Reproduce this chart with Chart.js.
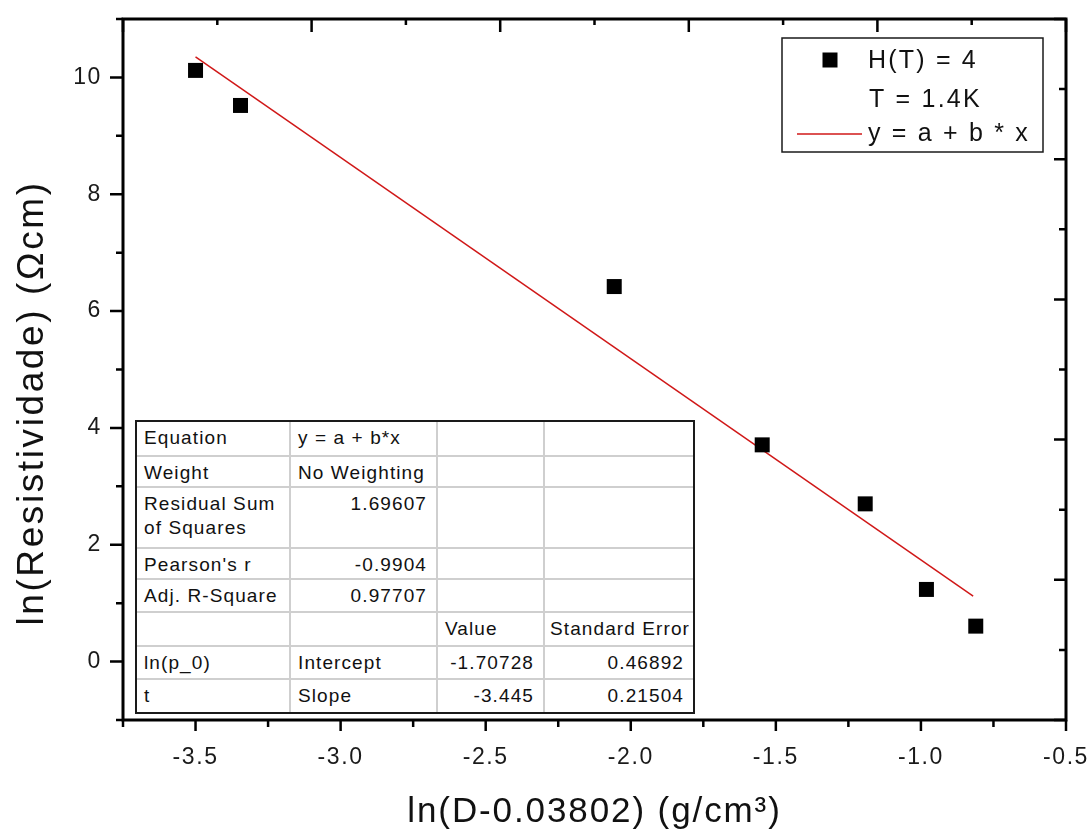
<!DOCTYPE html>
<html>
<head>
<meta charset="utf-8">
<script src="https://cdn.jsdelivr.net/npm/chart.js@4.4.1/dist/chart.umd.min.js"></script>
<style>
  body { margin: 0; background: #fff; overflow: hidden; }
  #wrap { position: relative; width: 1091px; height: 830px; }
  #grafico { position: absolute; left: 0; top: 0; }
  #tabela {
    position: absolute; left: 135px; top: 420px; width: 556px;
    border: 2px solid #1a1a1a; background: #fff;
    font-family: "Liberation Sans", Arial, sans-serif; font-size: 19px;
    letter-spacing: 1.1px; color: #111;
  }
  #tabela table { border-collapse: collapse; table-layout: fixed; width: 556px; }
  #tabela td {
    box-sizing: border-box;
    border: 2px solid #cfcfcf; padding: 4px 4px 0 7px;
    vertical-align: top; line-height: 24px; white-space: nowrap; overflow: hidden;
  }
  #tabela tr:first-child td { border-top: none; }
  #tabela tr:last-child td { border-bottom: none; }
  #tabela td:first-child { border-left: none; }
  #tabela td:last-child { border-right: none; padding-left: 5px; padding-right: 0; }
  #tabela td.num { text-align: right; padding-right: 9px; }
</style>
</head>
<body>
<div id="wrap">
  <canvas id="grafico" width="1091" height="830"></canvas>
  <div id="tabela"></div>
</div>
<script>
// dados
const xValores = [-3.5, -3.345, -2.057, -1.547, -1.192, -0.981, -0.811];
const yValores = [10.12, 9.52, 6.42, 3.71, 2.70, 1.235, 0.607];

// reta do ajuste (pontas)
const ajusteX = [-3.5, -0.82];
const ajusteY = [10.35, 1.12];

const xTicks = [-3.5, -3.0, -2.5, -2.0, -1.5, -1.0, -0.5];
const xTickLabels = ['-3.5', '-3.0', '-2.5', '-2.0', '-1.5', '-1.0', '-0.5'];
const yTicks = [0, 2, 4, 6, 8, 10];
const yTickLabels = ['0', '2', '4', '6', '8', '10'];

const legendaTextos = ['H(T) = 4', 'T = 1.4K', 'y = a + b * x'];
const tituloX = 'ln(D-0.03802) (g/cm³)';
const tituloY = 'ln(Resistividade) (Ωcm)';

// tabela do ajuste linear
const tabelaLinhas = [
  ['Equation', 'y = a + b*x', '', ''],
  ['Weight', 'No Weighting', '', ''],
  ['Residual Sum<br>of Squares', '1.69607', '', ''],
  ["Pearson's r", '-0.9904', '', ''],
  ['Adj. R-Square', '0.97707', '', ''],
  ['', '', 'Value', 'Standard Error'],
  ['ln(p_0)', 'Intercept', '-1.70728', '0.46892'],
  ['t', 'Slope', '-3.445', '0.21504']
];
const tabelaAlturas = [34, 31, 61, 31, 33, 34, 33, 33];
const tabelaLarguras = [153, 147, 107, 149];

const fonte = '"Liberation Sans", Arial, sans-serif';
const vermelho = '#d01818';

function montaTabela() {
  let html = '<table><colgroup>';
  tabelaLarguras.forEach(w => { html += '<col style="width:' + w + 'px">'; });
  html += '</colgroup>';
  tabelaLinhas.forEach((linha, i) => {
    html += '<tr style="height:' + tabelaAlturas[i] + 'px">';
    linha.forEach((cel) => {
      // numeros alinhados a direita
      const num = /^-?\d/.test(cel);
      html += '<td' + (num ? ' class="num"' : '') + ' style="height:' + tabelaAlturas[i] + 'px">' + cel + '</td>';
    });
    html += '</tr>';
  });
  html += '</table>';
  document.getElementById('tabela').innerHTML = html;
}
montaTabela();

// eixos, marcas e legenda desenhados a mao (estilo Origin)
const molduraPlugin = {
  id: 'moldura',
  beforeDraw(chart) {
    chart.ctx.letterSpacing = '1.6px';
  },
  afterDraw(chart) {
    const ctx = chart.ctx;
    const a = chart.chartArea;
    const sx = chart.scales.x;
    const sy = chart.scales.y;
    ctx.save();
    ctx.strokeStyle = '#000';
    ctx.lineWidth = 3;
    ctx.lineCap = 'square';
    ctx.strokeRect(a.left, a.top, a.right - a.left, a.bottom - a.top);

    ctx.lineWidth = 2.5;
    ctx.lineCap = 'butt';
    ctx.beginPath();
    // inferior: para fora
    for (let i = 0; i <= 13; i++) {
      const px = sx.getPixelForValue(-3.75 + i * 0.25);
      const len = i % 2 === 1 ? 11 : 7;
      ctx.moveTo(px, a.bottom); ctx.lineTo(px, a.bottom + len);
    }
    // esquerda: para fora
    for (let v = -1; v <= 11; v++) {
      const py = sy.getPixelForValue(v);
      const len = v % 2 === 0 ? 13 : 7;
      ctx.moveTo(a.left, py); ctx.lineTo(a.left - len, py);
    }
    // superior e direita: para dentro, 10 divisoes
    for (let i = 0; i <= 10; i++) {
      const px = a.left + (a.right - a.left) * i / 10;
      const lenT = i % 2 === 0 ? 13 : 6;
      ctx.moveTo(px, a.top); ctx.lineTo(px, a.top + lenT);
      const py = a.top + (a.bottom - a.top) * i / 10;
      const lenR = i % 2 === 0 ? 12 : 7;
      ctx.moveTo(a.right, py); ctx.lineTo(a.right - lenR, py);
    }
    ctx.stroke();

    // titulos
    ctx.fillStyle = '#111';
    ctx.font = '35px ' + fonte;
    ctx.letterSpacing = '1.9px';
    ctx.textAlign = 'center';
    ctx.textBaseline = 'alphabetic';
    ctx.fillText(tituloX, (a.left + a.right) / 2, 822);

    ctx.save();
    ctx.translate(43, 403);
    ctx.rotate(-Math.PI / 2);
    ctx.font = '37px ' + fonte;
    ctx.letterSpacing = '2.6px';
    ctx.fillText(tituloY, 0, 0);
    ctx.restore();

    // legenda
    ctx.lineWidth = 1.5;
    ctx.strokeStyle = '#1a1a1a';
    ctx.strokeRect(782, 38, 261, 114);
    ctx.fillStyle = '#000';
    ctx.fillRect(830 - 7.5, 60 - 7.5, 15, 15);
    ctx.strokeStyle = vermelho;
    ctx.beginPath();
    ctx.moveTo(797, 134); ctx.lineTo(862, 134);
    ctx.stroke();
    ctx.fillStyle = '#111';
    ctx.font = '25px ' + fonte;
    ctx.letterSpacing = '2.2px';
    ctx.textAlign = 'left';
    ctx.textBaseline = 'middle';
    ctx.fillText(legendaTextos[0], 868, 61);
    ctx.fillText(legendaTextos[1], 869, 100);
    ctx.fillText(legendaTextos[2], 868, 134);
    ctx.restore();
  }
};

const pontos = xValores.map((x, i) => ({ x: x, y: yValores[i] }));
const reta = ajusteX.map((x, i) => ({ x: x, y: ajusteY[i] }));

new Chart(document.getElementById('grafico').getContext('2d'), {
  type: 'scatter',
  data: {
    datasets: [
      {
        label: legendaTextos[0],
        data: pontos,
        pointStyle: 'rect',
        pointRadius: 10.6,
        pointBorderWidth: 0,
        backgroundColor: '#000',
        borderColor: '#000'
      },
      {
        label: legendaTextos[2],
        data: reta,
        showLine: true,
        pointRadius: 0,
        borderColor: vermelho,
        borderWidth: 1.5
      }
    ]
  },
  options: {
    responsive: false,
    animation: false,
    devicePixelRatio: 1,
    layout: { padding: { top: 19, right: 25, left: 0, bottom: 0 } },
    plugins: { legend: { display: false }, tooltip: { enabled: false } },
    scales: {
      x: {
        type: 'linear',
        min: -3.75,
        max: -0.5,
        grid: { display: false, drawTicks: false },
        border: { display: false },
        afterBuildTicks: (s) => { s.ticks = xTicks.map(v => ({ value: v })); },
        afterFit: (s) => { s.height = 110; s.paddingLeft = 0; s.paddingRight = 0; },
        ticks: {
          padding: 24,
          color: '#1a1a1a',
          font: { family: fonte, size: 23 },
          callback: (v, i) => xTickLabels[i]
        }
      },
      y: {
        type: 'linear',
        min: -1,
        max: 11,
        grid: { display: false, drawTicks: false },
        border: { display: false },
        afterBuildTicks: (s) => { s.ticks = yTicks.map(v => ({ value: v })); },
        afterFit: (s) => { s.width = 123; s.paddingTop = 0; s.paddingBottom = 0; },
        ticks: {
          padding: 21,
          color: '#1a1a1a',
          font: { family: fonte, size: 23 },
          callback: (v, i) => yTickLabels[i]
        }
      }
    }
  },
  plugins: [molduraPlugin]
});
</script>
</body>
</html>
